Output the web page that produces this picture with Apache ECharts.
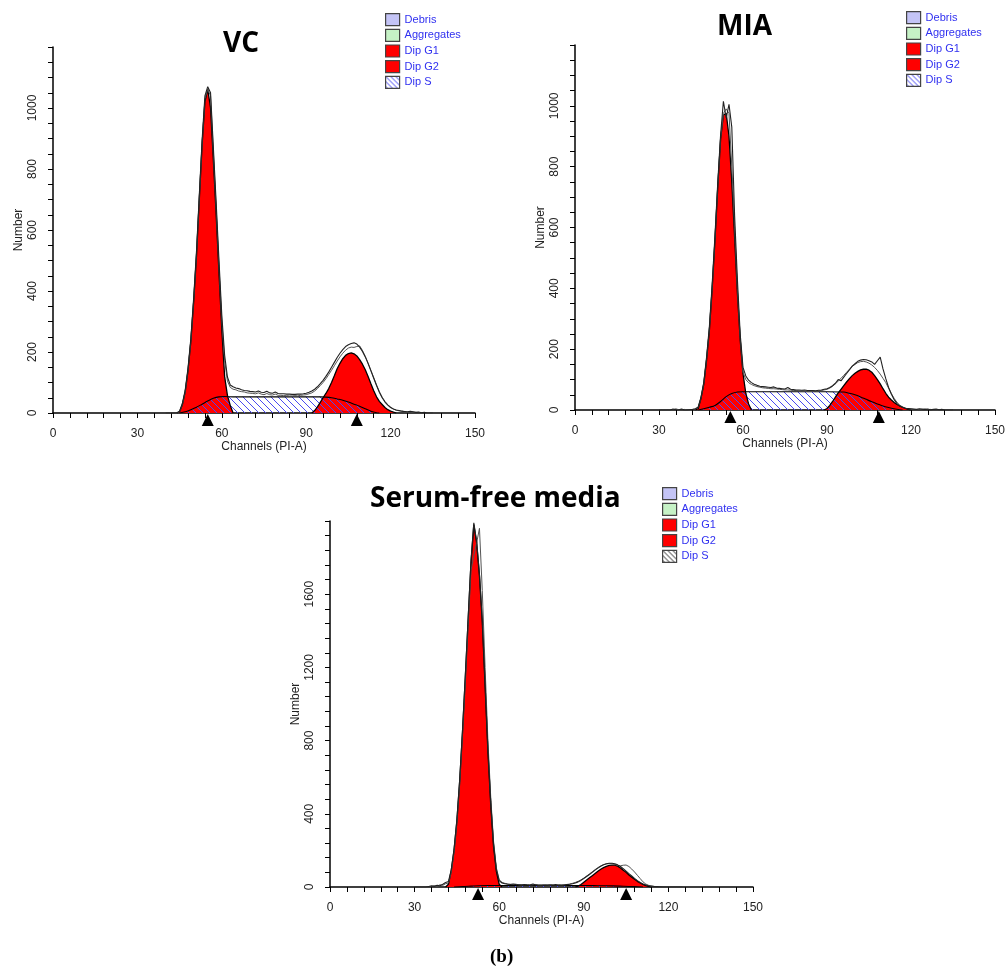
<!DOCTYPE html>
<html>
<head>
<meta charset="utf-8">
<script src="https://cdn.jsdelivr.net/npm/echarts/dist/echarts.min.js"></script>
<style>
  html, body { margin: 0; background: #fff; }
  #chart { width: 1008px; height: 976px; }
</style>
</head>
<body>
<div id="chart"></div>
<script>
// ---- data (channel -> count) ----
// VC
const vcLineStart = 40;
const vcLineA = [0,0,0,0,1,6,32,76,148,245, 378,530,715,895,1040,1070,1050,870,690,500,
  320,190,118,92,86,82,80,76,74,73, 71,70,69,72,68,67,71,66,65,69, 64,63,63,62,62,61,61,62,62,63,
  65,68,72,78,86,96,107,120,134,150, 166,182,196,208,218,224,228,230,226,216,
  202,184,162,138,114,90,68,50,36,26, 18,13,10,8,6,5,4,6,4,2, 3,1,2,0,0,0];
const vcLineB = [0,0,0,0,0,4,28,70,142,238, 370,520,705,885,1030,1062,1040,855,672,482,
  302,172,105,84,78,76,72,70,69,66, 65,64,63,66,62,60,64,60,59,62, 58,58,57,57,56,56,57,56,58,59,
  60,63,66,72,80,90,100,112,126,140, 155,170,184,196,206,213,216,215,218,220,
  205,186,164,140,116,92,70,52,38,27, 19,13,9,7,6,4,3,5,3,2, 2,1,1,0,0,0];
const vcG1Start = 44;
const vcG1 = [0,4,28,70,140,235,365,515,700,880,1020,1062,1000,830,650,460,275,120,58,25,0];
const vcG2Start = 92;
const vcG2 = [0,8,20,35,50,64,80,100,122,145,163,178,189,195,197,194,187,175,160,142,120,96,73,53,38,28,18,11,6,3,0];
const vcSCh = [45,47,49,51,53,55,57,59,61,64,70,80,90,95,97,99,101,103,105,107,109,111,113,115,116];
const vcS   = [0,4,11,19,29,39,48,53,54,53,53,53,53,53,52,50,46,42,36,29,22,14,6,1,0];
const vcPeaks = [55, 108];

// MIA
const miaLineStart = 30;
const miaLineA = [0,0,0,0,0,3,1,0,3,1, 0,1,2,4,10,42,92,175,275,415,
  575,750,905,1015,960,1005,930,640,430,250, 140,112,98,90,85,81,78,77,76,75,
  74,76,72,71,70,69,74,68,67,66, 66,65,66,64,64,64,63,65,66,68,
  70,74,80,88,100,96,108,120,132,144, 152,160,164,166,165,162,158,150,162,174,
  135,103,74,52,34,21,13,9,6,5, 4,3,2,4,3,2,3,1,2,3, 1,2,0,0,0,0];
const miaLineB = [0,0,0,0,0,1,4,1,0,2, 0,0,1,3,8,40,88,170,268,405,
  565,740,895,975,990,975,800,600,400,240, 125,100,90,84,80,77,75,73,72,71,
  70,70,69,68,67,66,66,65,64,64, 63,63,62,62,62,62,62,63,64,66,
  68,72,78,86,95,104,114,124,134,143, 150,156,159,160,158,154,148,140,130,118,
  104,90,72,54,38,25,16,10,6,4, 3,2,1,2,1,3,1,2,0,0, 0,0,0,0,0,0];
const miaG1Start = 43;
const miaG1 = [0,5,38,85,165,262,400,560,735,890,970,975,900,750,570,385,230,120,55,20,0];
const miaG2Start = 89;
const miaG2 = [0,5,15,28,42,56,68,80,92,103,113,121,127,132,134,134,131,124,113,100,86,70,55,42,33,25,18,13,9,5,2,0];
const miaSCh = [44,46,48,50,52,54,56,58,60,70,80,90,96,98,100,102,104,106,108,110,112,114,116,117];
const miaS   = [0,4,9,15,28,44,54,59,60,60,60,60,59,55,50,43,35,27,20,13,8,4,1,0];
const miaPeaks = [55.5, 108.5];

// Serum-free media
const sfLineStart = 30;
const sfLineA = [0,0,0,0,0,3,6,4,10,7, 15,25,30,95,210,370,590,860,1160,1475,
  1785,1990,1890,1710,1460,1110,755,465,235,95, 35,22,18,15,14,16,13,12,12,13,
  11,12,16,11,10,11,10,10,12,10, 14,10,10,11,13,15,18,22,28,36,
  46,57,68,80,92,103,113,121,127,130, 130,127,121,112,100,87,73,60,47,35,
  25,17,11,7,5,3,2,1,0,0, 0,0,0,0,0,0];
const sfLineB = [0,0,0,0,0,0,3,7,5,12, 9,18,22,80,190,350,565,830,1120,1430,
  1730,1810,1880,1960,1620,1200,800,490,250,105, 40,25,20,17,15,14,15,12,11,12,
  13,11,12,14,10,10,12,11,10,12, 11,12,10,12,14,16,20,25,31,39,
  49,60,71,83,95,106,115,122,126,128, 127,123,118,116,119,120,112,98,82,64,
  46,28,16,9,5,3,2,1,0,0, 0,0,0,0,0,0];
const sfG1Start = 41;
const sfG1 = [0,15,90,200,360,580,850,1150,1460,1770,1980,1880,1700,1450,1100,740,450,220,85,15,0];
const sfG2Start = 87;
const sfG2 = [0,5,14,26,38,50,62,74,86,97,106,113,118,120,119,114,104,92,80,66,54,42,31,22,14,8,3,0];
const sfSCh = [44,47,50,53,56,60,70,80,90,95,100,104,108,111];
const sfS   = [0,3,5,7,8,8,8,8,8,7,6,4,2,0];
const sfPeaks = [52.5, 105];

const xTicks = { min: 0, max: 150, interval: 30 };
const legendNames = ['Debris', 'Aggregates', 'Dip G1', 'Dip G2', 'Dip S'];

// ---- layout ----
const FONT = '"Liberation Sans", Arial, sans-serif';

function pairs(start, vals) { return vals.map((v, i) => [start + i, v]); }
function zip(chs, vals) { return chs.map((c, i) => [c, vals[i]]); }

// crisp 1px "\" hatch tile for the S-phase area
function hatch(color, n) {
  const c = document.createElement('canvas');
  c.width = n; c.height = n;
  const g = c.getContext('2d');
  g.fillStyle = color;
  for (let k = 0; k < n; k++) g.fillRect(k, k, 1, 1);
  return c;
}

const panels = [
  { title: 'VC', titlePos: [223, 30], legend: [385, 13], legendHatch: '#3c3cf0',
    grid: { left: 53, top: 47, width: 422, height: 366 }, yMax: 1200, yStep: 200, ySplit: 4,
    lineStart: vcLineStart, lineA: vcLineA, lineB: vcLineB,
    g1Start: vcG1Start, g1: vcG1, g2Start: vcG2Start, g2: vcG2, sCh: vcSCh, s: vcS, peaks: vcPeaks },
  { title: 'MIA', titlePos: [717, 13], legend: [906, 11], legendHatch: '#3c3cf0',
    grid: { left: 575, top: 45, width: 421, height: 365 }, yMax: 1200, yStep: 200, ySplit: 4,
    lineStart: miaLineStart, lineA: miaLineA, lineB: miaLineB,
    g1Start: miaG1Start, g1: miaG1, g2Start: miaG2Start, g2: miaG2, sCh: miaSCh, s: miaS, peaks: miaPeaks },
  { title: 'Serum-free media', titlePos: [370, 485], legend: [662, 487], legendHatch: '#222',
    grid: { left: 330, top: 521, width: 423, height: 366 }, yMax: 2000, yStep: 400, ySplit: 5,
    lineStart: sfLineStart, lineA: sfLineA, lineB: sfLineB,
    g1Start: sfG1Start, g1: sfG1, g2Start: sfG2Start, g2: sfG2, sCh: sfSCh, s: sfS, peaks: sfPeaks }
];

const sPattern = { image: hatch('#4a4af0', 7), repeat: 'repeat' };

const option = {
  animation: false,
  textStyle: { fontFamily: FONT },
  title: panels.map(p => ({
    text: p.title, left: p.titlePos[0], top: p.titlePos[1], padding: 0,
    textStyle: { fontFamily: '"Open Sans", sans-serif', fontWeight: 'bold', fontSize: 28, color: '#000' }
  })).concat([{
    text: '(b)', left: 490, top: 948, padding: 0,
    textStyle: { fontFamily: '"Liberation Serif", serif', fontWeight: 'bold', fontSize: 19, color: '#000' }
  }]),
  legend: panels.map(p => {
    const fills = ['#c4c4f6', '#c6f2c6', '#ff0000', '#ff0000', { image: hatch(p.legendHatch, 5), repeat: 'repeat' }];
    return {
      orient: 'vertical', left: p.legend[0], top: p.legend[1], padding: 0,
      itemWidth: 14, itemHeight: 12, itemGap: 2.5, selectedMode: false,
      textStyle: { color: '#3030f0', fontSize: 11, fontFamily: FONT },
      data: legendNames.map((n, i) => ({
        name: n, icon: 'rect',
        itemStyle: { color: fills[i], borderColor: '#444', borderWidth: 1.2 }
      }))
    };
  }),
  grid: panels.map(p => p.grid),
  xAxis: panels.map((p, i) => ({
    gridIndex: i, type: 'value', min: xTicks.min, max: xTicks.max, interval: xTicks.interval,
    name: 'Channels (PI-A)', nameLocation: 'middle', nameGap: 28,
    nameTextStyle: { color: '#222', fontSize: 12 },
    axisLine: { lineStyle: { color: '#000', width: 1.5 } },
    axisTick: { length: 5, lineStyle: { color: '#000' } },
    minorTick: { show: true, splitNumber: 5, length: 5, lineStyle: { color: '#000' } },
    splitLine: { show: false },
    axisLabel: { color: '#222', fontSize: 12, margin: 15 }
  })),
  yAxis: panels.map((p, i) => ({
    gridIndex: i, type: 'value', min: 0, max: p.yMax, interval: p.yStep,
    name: 'Number', nameLocation: 'middle', nameGap: 28, nameRotate: 90,
    nameTextStyle: { color: '#222', fontSize: 12 },
    axisLine: { show: true, lineStyle: { color: '#000', width: 1.5 } },
    axisTick: { show: true, length: 5, lineStyle: { color: '#000' } },
    minorTick: { show: true, splitNumber: p.ySplit, length: 5, lineStyle: { color: '#000' } },
    splitLine: { show: false },
    axisLabel: { color: '#222', fontSize: 12, rotate: 90, margin: 14, showMaxLabel: false,
      formatter: v => String(v) }
  })),
  series: [
    { name: 'Debris', type: 'line', xAxisIndex: 0, yAxisIndex: 0, data: [] },
    { name: 'Aggregates', type: 'line', xAxisIndex: 0, yAxisIndex: 0, data: [] }
  ]
};

panels.forEach((p, i) => {
  const base = { type: 'line', xAxisIndex: i, yAxisIndex: i, symbol: 'none', silent: true, emphasis: { disabled: true } };
  option.series.push(
    Object.assign({}, base, { name: 'Dip G1', data: pairs(p.g1Start, p.g1),
      lineStyle: { color: '#000', width: 1.3 }, itemStyle: { color: '#ff0000' }, areaStyle: { color: '#ff0000', opacity: 1 } }),
    Object.assign({}, base, { name: 'Dip G2', data: pairs(p.g2Start, p.g2),
      lineStyle: { color: '#000', width: 1.3 }, itemStyle: { color: '#ff0000' }, areaStyle: { color: '#ff0000', opacity: 1 } }),
    Object.assign({}, base, { name: 'Dip S', data: zip(p.sCh, p.s), smooth: 0.3,
      lineStyle: { color: '#000', width: 1.1 }, itemStyle: { color: '#4a4af0' }, areaStyle: { color: sPattern, opacity: 1 } }),
    Object.assign({}, base, { name: 'Data B', data: pairs(p.lineStart, p.lineB),
      lineStyle: { color: '#555', width: 1 } }),
    Object.assign({}, base, { name: 'Data A', data: pairs(p.lineStart, p.lineA),
      lineStyle: { color: '#222', width: 1.1 } }),
    { name: 'Peak', type: 'scatter', xAxisIndex: i, yAxisIndex: i, silent: true, clip: false, z: 5,
      data: p.peaks.map(c => [c, 0]), symbol: 'triangle', symbolSize: [12, 12], symbolOffset: [0, 7],
      itemStyle: { color: '#000', opacity: 1 } }
  );
});

const chart = echarts.init(document.getElementById('chart'));
chart.setOption(option);
</script>
</body>
</html>
